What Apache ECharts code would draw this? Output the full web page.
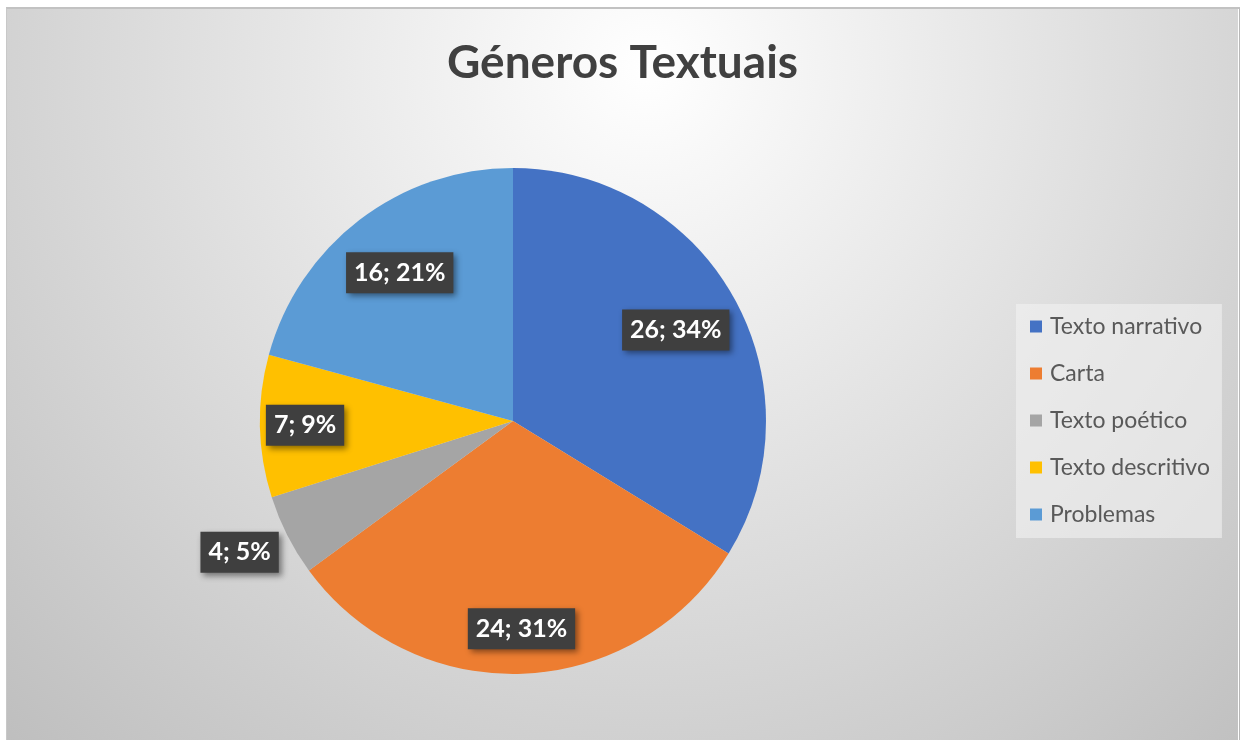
<!DOCTYPE html>
<html>
<head>
<meta charset="utf-8">
<script src="https://cdn.jsdelivr.net/npm/echarts@6/dist/echarts.min.js"></script>
<style>
  html, body { margin: 0; padding: 0; background: #ffffff; }
  #frame { position: absolute; left: 6px; top: 7px; width: 1232px; height: 733px;
           border-top: 2px solid #c2c2c2; border-left: 1px solid #c8c8c8; border-right: 2px solid #b8b8b8; }
  #chart { width: 1231px; height: 731px; }
</style>
</head>
<body>
<div id="frame"><div id="chart"></div></div>
<script>
const titleText = 'Géneros Textuais';
const categories = ['Texto narrativo', 'Carta', 'Texto poético', 'Texto descritivo', 'Problemas'];
const values = [26, 24, 4, 7, 16];

const palette = ['#4472C4', '#ED7D31', '#A5A5A5', '#FFC000', '#5B9BD5'];
const R = 253;
const center = [506, 412];

const labelStyle = {
  show: true,
  position: 'inside',
  formatter: '{c}; {d}%',
  color: '#ffffff',
  fontFamily: 'Lato',
  fontWeight: 'bold',
  fontSize: 25,
  lineHeight: 25,
  backgroundColor: '#3f3f3f',
  padding: [8, 8, 8, 8],
  shadowColor: 'rgba(0,0,0,0.45)',
  shadowBlur: 6,
  shadowOffsetX: 3,
  shadowOffsetY: 3
};

function helperData(showIdx, outsideIdx) {
  return categories.map((name, i) => {
    const item = { name: name, value: values[i] };
    if (showIdx.indexOf(i) < 0) {
      item.label = { show: false };
    } else if (i === outsideIdx) {
      item.label = { position: 'outside' };
      item.labelLine = { show: false };
    }
    return item;
  });
}

const helperBase = {
  type: 'pie',
  center: center,
  startAngle: 90,
  silent: true,
  legendHoverLink: false,
  avoidLabelOverlap: false,
  percentPrecision: 0,
  itemStyle: { color: 'rgba(0,0,0,0)', borderWidth: 0 },
  emphasis: { disabled: true },
  label: labelStyle,
  labelLine: { show: false, length: 4, length2: 0 }
};

const chart = echarts.init(document.getElementById('chart'), null, { renderer: 'canvas' });
chart.setOption({
  animation: false,
  backgroundColor: {
    type: 'radial', x: 0.52, y: 0.08, r: 1.3,
    colorStops: [{ offset: 0, color: '#ffffff' }, { offset: 1, color: '#bdbdbd' }]
  },
  color: palette,
  title: {
    text: titleText,
    left: 'center',
    top: 26,
    textStyle: { fontFamily: 'Lato', fontWeight: 'bold', fontSize: 46, color: '#404040' }
  },
  legend: {
    data: categories,
    orient: 'vertical',
    left: 1009,
    top: 295,
    icon: 'rect',
    itemWidth: 12,
    itemHeight: 12,
    itemGap: 24,
    selectedMode: false,
    padding: [11, 12, 12, 14],
    backgroundColor: 'rgba(242,242,242,0.6)',
    textStyle: { fontFamily: 'Lato', fontSize: 23, lineHeight: 23, color: '#595959', padding: [0, 0, 0, 3] }
  },
  series: [
    {
      type: 'pie',
      center: center,
      radius: R,
      startAngle: 90,
      percentPrecision: 0,
      label: { show: false },
      labelLine: { show: false },
      emphasis: { disabled: true },
      itemStyle: { borderWidth: 0 },
      data: categories.map((name, i) => ({ name: name, value: values[i] }))
    },
    Object.assign({}, helperBase, {
      radius: [Math.round(R * 0.45), R],
      data: helperData([0, 4], -1)
    }),
    Object.assign({}, helperBase, {
      radius: [Math.round(R * 0.62), R],
      data: helperData([1, 2, 3], 2),
      labelLayout: function (params) {
        return params.dataIndex === 2 ? { dy: 15 } : {};
      }
    })
  ]
});
</script>
</body>
</html>
